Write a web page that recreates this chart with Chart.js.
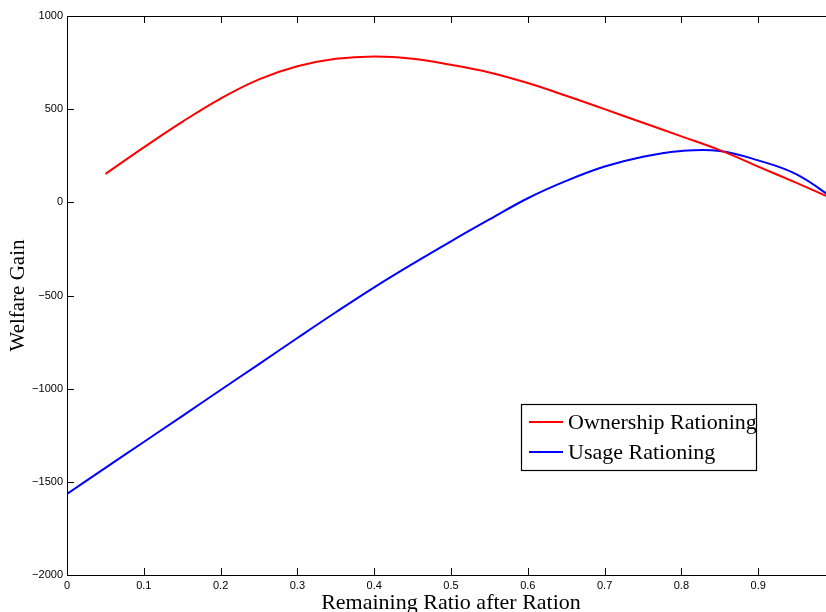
<!DOCTYPE html>
<html>
<head>
<meta charset="utf-8">
<script src="https://cdn.jsdelivr.net/npm/chart.js@4.4.1/dist/chart.umd.min.js"></script>
<style>
  html, body { margin: 0; padding: 0; background: #fff; overflow: hidden; }
  #wrap { width: 840px; height: 612px; }
</style>
</head>
<body>
<div id="wrap"><canvas id="chart" width="840" height="612"></canvas></div>
<script>
// Remaining ratio after the ration (x) and welfare gain of each rationing scheme
const ratio     = [0, 0.05, 0.1, 0.15, 0.2, 0.25, 0.3, 0.35, 0.4, 0.45, 0.5, 0.55, 0.6, 0.65, 0.7, 0.75, 0.8, 0.85, 0.9, 0.95, 1.0];
const ownership = [null, 152, 295, 432, 557, 660, 730, 770, 783, 771, 738, 697, 640, 572, 500, 427, 354, 280, 192, 104, 14];
const usage     = [-1565, -1425, -1286, -1147, -1007, -868, -728, -590, -456, -330, -209, -92, 22, 115, 192, 245, 276, 276, 225, 150, 15];
const seriesNames = ['Ownership Rationing', 'Usage Rationing'];
const yTicks = [-2000, -1500, -1000, -500, 0, 500, 1000];
const xTicks = [0, 0.1, 0.2, 0.3, 0.4, 0.5, 0.6, 0.7, 0.8, 0.9, 1.0];

const toPoints = (vals) => ratio.map((x, i) => ({ x, y: vals[i] })).filter(p => p.y !== null);

const SERIF = '"Liberation Serif", "DejaVu Serif", serif';
const SANS = '"Liberation Sans", Arial, sans-serif';

// Frame around the plot area with inward tick marks on every side
const framePlugin = {
  id: 'frame',
  afterDatasetsDraw(chart) {
    const { ctx, chartArea: a, scales } = chart;
    ctx.save();
    ctx.strokeStyle = '#000';
    ctx.lineWidth = 1;
    ctx.beginPath();
    ctx.rect(Math.round(a.left) + 0.5, Math.round(a.top) + 0.5, Math.round(a.right - a.left), Math.round(a.bottom - a.top));
    const tl = 7;
    xTicks.forEach(v => {
      const px = Math.round(scales.x.getPixelForValue(v)) + 0.5;
      ctx.moveTo(px, a.bottom); ctx.lineTo(px, a.bottom - tl);
      ctx.moveTo(px, a.top); ctx.lineTo(px, a.top + tl);
    });
    yTicks.forEach(v => {
      const py = Math.round(scales.y.getPixelForValue(v)) + 0.5;
      ctx.moveTo(a.left, py); ctx.lineTo(a.left + tl, py);
      ctx.moveTo(a.right, py); ctx.lineTo(a.right - tl, py);
    });
    ctx.stroke();
    ctx.restore();
  }
};

// Boxed legend placed in the lower right of the plot
const boxLegendPlugin = {
  id: 'boxLegend',
  afterDraw(chart) {
    const { ctx, chartArea: a } = chart;
    const bx = a.left + 454, by = a.top + 388, bw = 235, bh = 66;
    ctx.save();
    ctx.fillStyle = '#fff';
    ctx.fillRect(bx, by, bw, bh);
    ctx.strokeStyle = '#000';
    ctx.lineWidth = 1.2;
    ctx.strokeRect(bx + 0.5, by + 0.5, bw, bh);
    ctx.font = '22px ' + SERIF;
    ctx.textBaseline = 'middle';
    ctx.textAlign = 'left';
    chart.data.datasets.forEach((ds, i) => {
      const cy = by + 18 + i * 30;
      ctx.strokeStyle = ds.borderColor;
      ctx.lineWidth = 2;
      ctx.beginPath();
      ctx.moveTo(bx + 8, cy); ctx.lineTo(bx + 42, cy);
      ctx.stroke();
      ctx.fillStyle = '#000';
      ctx.fillText(ds.label, bx + 47, cy + 1);
    });
    ctx.restore();
  }
};

new Chart(document.getElementById('chart'), {
  type: 'line',
  data: {
    datasets: [
      { label: seriesNames[0], data: toPoints(ownership), borderColor: '#ff0000', borderWidth: 2, pointRadius: 0, tension: 0.4, fill: false },
      { label: seriesNames[1], data: toPoints(usage), borderColor: '#0000ff', borderWidth: 2, pointRadius: 0, tension: 0.4, fill: false }
    ]
  },
  options: {
    responsive: false,
    devicePixelRatio: 1,
    animation: false,
    layout: { padding: { top: 16, right: 5, bottom: 0, left: 0 } },
    plugins: { legend: { display: false }, tooltip: { enabled: false } },
    scales: {
      x: {
        type: 'linear',
        min: 0, max: 1,
        afterFit: (s) => { s.height = 37; },
        afterBuildTicks: (s) => { s.ticks = xTicks.map(v => ({ value: v })); },
        grid: { display: false, drawTicks: false },
        border: { display: false },
        ticks: {
          padding: 4,
          color: '#000',
          font: { family: SANS, size: 11 },
          maxRotation: 0,
          autoSkip: false,
          callback: (v) => v === 0 ? '0' : (v >= 0.999 ? '' : v.toFixed(1))
        },
        title: {
          display: true,
          text: 'Remaining Ratio after Ration',
          color: '#000',
          font: { family: SERIF, size: 22, lineHeight: 0.8 },
          padding: { top: 0, bottom: 0 }
        }
      },
      y: {
        min: -2000, max: 1000,
        afterFit: (s) => { s.width = 67; },
        afterBuildTicks: (s) => { s.ticks = yTicks.map(v => ({ value: v })); },
        grid: { display: false, drawTicks: false },
        border: { display: false },
        ticks: {
          padding: 4,
          color: '#000',
          font: { family: SANS, size: 11 },
          autoSkip: false,
          callback: (v) => v < 0 ? '\u2212' + Math.abs(v) : String(v)
        },
        title: {
          display: true,
          text: 'Welfare Gain',
          color: '#000',
          font: { family: SERIF, size: 21, lineHeight: 1 },
          padding: { top: 8, bottom: 0 }
        }
      }
    }
  },
  plugins: [framePlugin, boxLegendPlugin]
});
</script>
</body>
</html>
